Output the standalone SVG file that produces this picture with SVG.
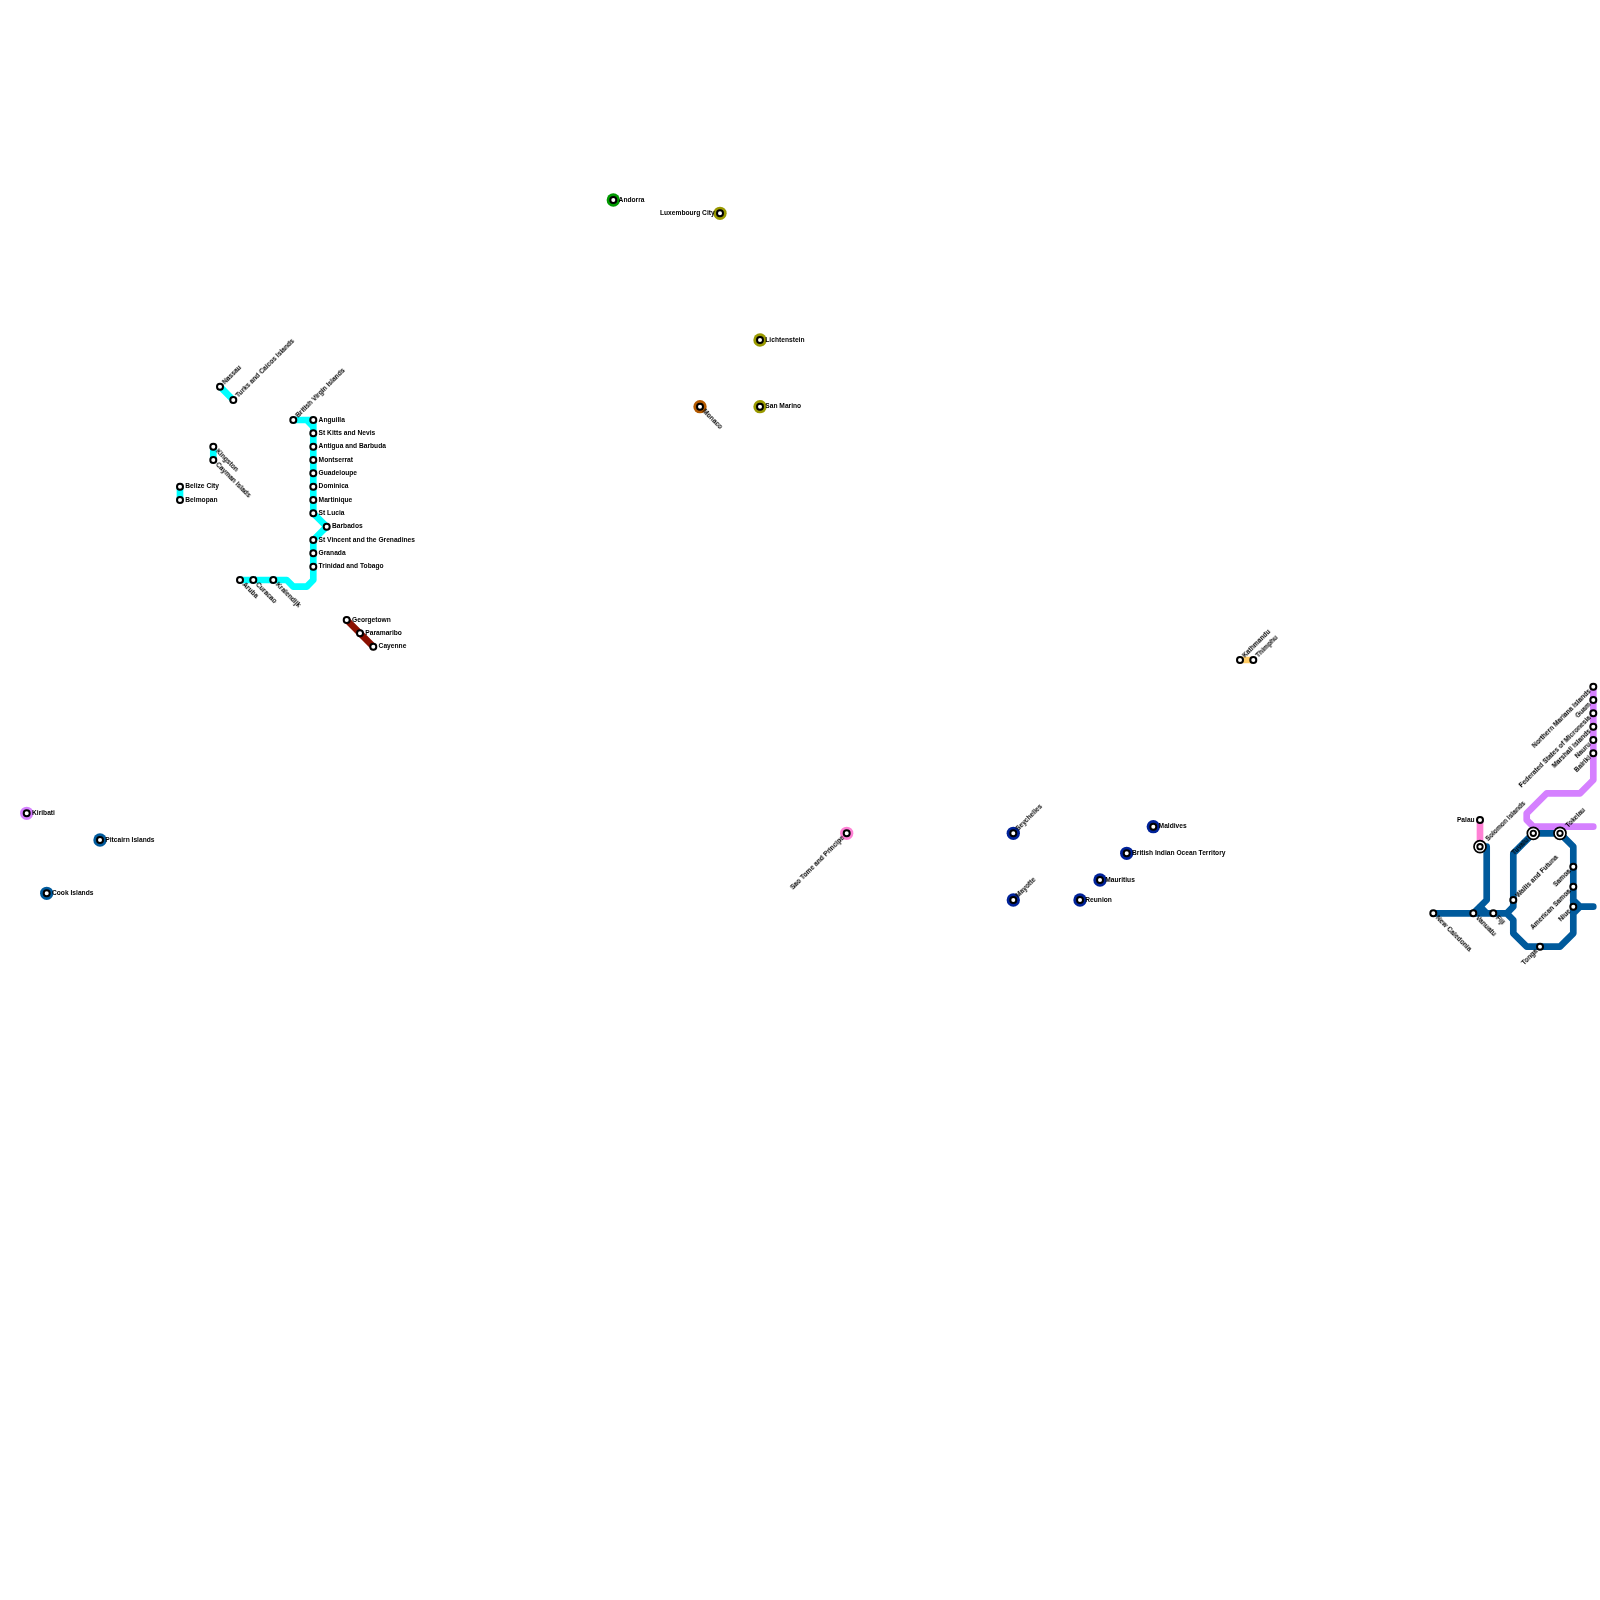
<svg xmlns="http://www.w3.org/2000/svg" width="1600" height="1600" viewBox="0 0 1600 1600">
<defs><filter id="soft" x="-10%" y="-30%" width="120%" height="160%"><feGaussianBlur stdDeviation="0.22"/></filter></defs>
<style>
text{font-family:"Liberation Sans",Arial,sans-serif;font-size:6.67px;font-weight:700;fill:#000;filter:url(#soft)}
.e{text-anchor:end}
.l{fill:none;stroke-width:6.67;stroke-linejoin:round;stroke-linecap:round}
.s{fill:#fff;stroke:#000;stroke-width:2}
.o{fill:#fff;stroke:#000;stroke-width:1.7}
.i{fill:#fff;stroke:#000;stroke-width:1.9}
.h{stroke:none}
</style>
<rect width="1600" height="1600" fill="#fff"/>
<g id="connectors">
<path class="l" stroke="#00ffff" d="M220 386.700L233.300 400M213.300 446.700V460M180 486.700V500M293.300 420H313.300V433.300M293.300 420H306.700L313.300 426.700V513.300L326.700 526.700L313.300 540V580L306.700 586.700H293.300L286.700 580H240"/>
<path class="l" stroke="#8b1000" d="M346.700 620L373.300 646.700"/>
<path class="l" stroke="#ffcc66" d="M1240 660H1253.300"/>
<path class="l" stroke="#ff80d5" d="M1480 820V846.700"/>
<path class="l" stroke="#d580ff" d="M1593.300 686.700V780L1580 793.300H1546.700L1526.700 813.300V820L1533.300 826.700H1593.300"/>
<path class="l" stroke="#005a9c" d="M1433.300 913.300H1506.700L1513.300 906.700V853.300L1533.300 833.300H1560L1573.300 846.700V933.300L1560 946.700H1526.700L1513.300 933.300V920L1506.700 913.300M1473.300 913.300L1486.700 900V846.700M1480 906.700L1486.700 913.300M1573.300 900L1580 906.700H1593.300M1573.300 913.300L1580 906.700"/>
</g>
<g id="n-kiribati"><circle class="h" cx="26.700" cy="813.300" r="6.670" fill="#d580ff"/><circle class="s" cx="26.700" cy="813.300" r="3"/><text x="32" y="815">Kiribati</text></g>
<g id="n-pitcairn"><circle class="h" cx="100" cy="840" r="6.670" fill="#005a9c"/><circle class="s" cx="100" cy="840" r="3"/><text x="105.300" y="841.700">Pitcairn Islands</text></g>
<g id="n-cook"><circle class="h" cx="46.700" cy="893.300" r="6.670" fill="#005a9c"/><circle class="s" cx="46.700" cy="893.300" r="3"/><text x="52" y="895">Cook Islands</text></g>
<g id="n-andorra"><circle class="h" cx="613.300" cy="200" r="6.670" fill="#009900"/><circle class="s" cx="613.300" cy="200" r="3"/><text x="618.600" y="201.700">Andorra</text></g>
<g id="n-luxembourg"><circle class="h" cx="720" cy="213.300" r="6.670" fill="#999900"/><circle class="s" cx="720" cy="213.300" r="3"/><text class="e" x="714.700" y="215">Luxembourg City</text></g>
<g id="n-lichtenstein"><circle class="h" cx="760" cy="340" r="6.670" fill="#999900"/><circle class="s" cx="760" cy="340" r="3"/><text x="765.300" y="341.700">Lichtenstein</text></g>
<g id="n-san-marino"><circle class="h" cx="760" cy="406.700" r="6.670" fill="#999900"/><circle class="s" cx="760" cy="406.700" r="3"/><text x="765.300" y="408.400">San Marino</text></g>
<g id="n-monaco"><circle class="h" cx="700" cy="406.700" r="6.670" fill="#b35900"/><circle class="s" cx="700" cy="406.700" r="3"/><text transform="translate(700 406.700) rotate(45)" x="5" y="2.300">Monaco</text></g>
<g id="n-sao-tome"><circle class="h" cx="846.700" cy="833.300" r="6.670" fill="#ff80d5"/><circle class="s" cx="846.700" cy="833.300" r="3"/><text class="e" transform="translate(846.700 833.300) rotate(-45)" x="-5" y="2.300">Sao Tome and Principe</text></g>
<g id="n-seychelles"><circle class="h" cx="1013.300" cy="833.300" r="6.670" fill="#002299"/><circle class="s" cx="1013.300" cy="833.300" r="3"/><text transform="translate(1013.300 833.300) rotate(-45)" x="5" y="2.300">Seychelles</text></g>
<g id="n-mayotte"><circle class="h" cx="1013.300" cy="900" r="6.670" fill="#002299"/><circle class="s" cx="1013.300" cy="900" r="3"/><text transform="translate(1013.300 900) rotate(-45)" x="5" y="2.300">Mayotte</text></g>
<g id="n-maldives"><circle class="h" cx="1153.300" cy="826.700" r="6.670" fill="#002299"/><circle class="s" cx="1153.300" cy="826.700" r="3"/><text x="1158.600" y="828.400">Maldives</text></g>
<g id="n-biot"><circle class="h" cx="1126.700" cy="853.300" r="6.670" fill="#002299"/><circle class="s" cx="1126.700" cy="853.300" r="3"/><text x="1132" y="855">British Indian Ocean Territory</text></g>
<g id="n-mauritius"><circle class="h" cx="1100" cy="880" r="6.670" fill="#002299"/><circle class="s" cx="1100" cy="880" r="3"/><text x="1105.300" y="881.700">Mauritius</text></g>
<g id="n-reunion"><circle class="h" cx="1080" cy="900" r="6.670" fill="#002299"/><circle class="s" cx="1080" cy="900" r="3"/><text x="1085.300" y="901.700">Reunion</text></g>
<g id="n-nassau"><circle class="s" cx="220" cy="386.700" r="3"/><text transform="translate(220 386.700) rotate(-45)" x="5" y="2.300">Nassau</text></g>
<g id="n-turks"><circle class="s" cx="233.300" cy="400" r="3"/><text transform="translate(233.300 400) rotate(-45)" x="5" y="2.300">Turks and Caicos Islands</text></g>
<g id="n-kingston"><circle class="s" cx="213.300" cy="446.700" r="3"/><text transform="translate(213.300 446.700) rotate(45)" x="5" y="2.300">Kingston</text></g>
<g id="n-cayman"><circle class="s" cx="213.300" cy="460" r="3"/><text transform="translate(213.300 460) rotate(45)" x="5" y="2.300">Cayman Islads</text></g>
<g id="n-belize"><circle class="s" cx="180" cy="486.700" r="3"/><text x="185.300" y="488.400">Belize City</text></g>
<g id="n-belmopan"><circle class="s" cx="180" cy="500" r="3"/><text x="185.300" y="501.700">Belmopan</text></g>
<g id="n-bvi"><circle class="s" cx="293.300" cy="420" r="3"/><text transform="translate(293.300 420) rotate(-45)" x="5" y="2.300">British Virgin Islands</text></g>
<g id="n-anguilla"><circle class="s" cx="313.300" cy="420" r="3"/><text x="318.600" y="421.700">Anguilla</text></g>
<g id="n-st-kitts"><circle class="s" cx="313.300" cy="433.300" r="3"/><text x="318.600" y="435">St Kitts and Nevis</text></g>
<g id="n-antigua"><circle class="s" cx="313.300" cy="446.700" r="3"/><text x="318.600" y="448.400">Antigua and Barbuda</text></g>
<g id="n-montserrat"><circle class="s" cx="313.300" cy="460" r="3"/><text x="318.600" y="461.700">Montserrat</text></g>
<g id="n-guadeloupe"><circle class="s" cx="313.300" cy="473.300" r="3"/><text x="318.600" y="475">Guadeloupe</text></g>
<g id="n-dominica"><circle class="s" cx="313.300" cy="486.700" r="3"/><text x="318.600" y="488.400">Dominica</text></g>
<g id="n-martinique"><circle class="s" cx="313.300" cy="500" r="3"/><text x="318.600" y="501.700">Martinique</text></g>
<g id="n-st-lucia"><circle class="s" cx="313.300" cy="513.300" r="3"/><text x="318.600" y="515">St Lucia</text></g>
<g id="n-barbados"><circle class="s" cx="326.700" cy="526.700" r="3"/><text x="332" y="528.400">Barbados</text></g>
<g id="n-st-vincent"><circle class="s" cx="313.300" cy="540" r="3"/><text x="318.600" y="541.700">St Vincent and the Grenadines</text></g>
<g id="n-granada"><circle class="s" cx="313.300" cy="553.300" r="3"/><text x="318.600" y="555">Granada</text></g>
<g id="n-trinidad"><circle class="s" cx="313.300" cy="566.700" r="3"/><text x="318.600" y="568.400">Trinidad and Tobago</text></g>
<g id="n-aruba"><circle class="s" cx="240" cy="580" r="3"/><text transform="translate(240 580) rotate(45)" x="5" y="2.300">Aruba</text></g>
<g id="n-curacao"><circle class="s" cx="253.300" cy="580" r="3"/><text transform="translate(253.300 580) rotate(45)" x="5" y="2.300">Curacao</text></g>
<g id="n-kralendijk"><circle class="s" cx="273.300" cy="580" r="3"/><text transform="translate(273.300 580) rotate(45)" x="5" y="2.300">Kralendijk</text></g>
<g id="n-georgetown"><circle class="s" cx="346.700" cy="620" r="3"/><text x="352" y="621.700">Georgetown</text></g>
<g id="n-paramaribo"><circle class="s" cx="360" cy="633.300" r="3"/><text x="365.300" y="635">Paramaribo</text></g>
<g id="n-cayenne"><circle class="s" cx="373.300" cy="646.700" r="3"/><text x="378.600" y="648.400">Cayenne</text></g>
<g id="n-kathmandu"><circle class="s" cx="1240" cy="660" r="3"/><text transform="translate(1240 660) rotate(-45)" x="5" y="2.300">Kathmandu</text></g>
<g id="n-thimphu"><circle class="s" cx="1253.300" cy="660" r="3"/><text transform="translate(1253.300 660) rotate(-45)" x="5" y="2.300">Thimphu</text></g>
<g id="n-northern-mariana"><circle class="s" cx="1593.300" cy="686.700" r="3"/><text class="e" transform="translate(1593.300 686.700) rotate(-45)" x="-5" y="2.300">Northern Mariana Islands</text></g>
<g id="n-guam"><circle class="s" cx="1593.300" cy="700" r="3"/><text class="e" transform="translate(1593.300 700) rotate(-45)" x="-5" y="2.300">Guam</text></g>
<g id="n-micronesia"><circle class="s" cx="1593.300" cy="713.300" r="3"/><text class="e" transform="translate(1593.300 713.300) rotate(-45)" x="-5" y="2.300">Federated States of Micronesia</text></g>
<g id="n-marshall"><circle class="s" cx="1593.300" cy="726.700" r="3"/><text class="e" transform="translate(1593.300 726.700) rotate(-45)" x="-5" y="2.300">Marshall Islands</text></g>
<g id="n-nauru"><circle class="s" cx="1593.300" cy="740" r="3"/><text class="e" transform="translate(1593.300 740) rotate(-45)" x="-5" y="2.300">Nauru</text></g>
<g id="n-bairiki"><circle class="s" cx="1593.300" cy="753.300" r="3"/><text class="e" transform="translate(1593.300 753.300) rotate(-45)" x="-5" y="2.300">Bairiki</text></g>
<g id="n-palau"><circle class="s" cx="1480" cy="820" r="3"/><text class="e" x="1474.700" y="821.700">Palau</text></g>
<g id="n-solomon"><circle class="o" cx="1480" cy="846.700" r="6"/><circle class="i" cx="1480" cy="846.700" r="2.700"/><text transform="translate(1480 846.700) rotate(-45)" x="9.500" y="2.300">Solomon Islands</text></g>
<g id="n-tuvalu"><circle class="o" cx="1533.300" cy="833.300" r="6"/><circle class="i" cx="1533.300" cy="833.300" r="2.700"/><text class="e" transform="translate(1533.300 833.300) rotate(-45)" x="-8" y="2.300">Tuvalu</text></g>
<g id="n-tokelau"><circle class="o" cx="1560" cy="833.300" r="6"/><circle class="i" cx="1560" cy="833.300" r="2.700"/><text transform="translate(1560 833.300) rotate(-45)" x="9.500" y="2.300">Tokelau</text></g>
<g id="n-samoa"><circle class="s" cx="1573.300" cy="866.700" r="3"/><text class="e" transform="translate(1573.300 866.700) rotate(-45)" x="-5" y="2.300">Samoa</text></g>
<g id="n-american-samoa"><circle class="s" cx="1573.300" cy="886.700" r="3"/><text class="e" transform="translate(1573.300 886.700) rotate(-45)" x="-5" y="2.300">American Samoa</text></g>
<g id="n-niue"><circle class="s" cx="1573.300" cy="906.700" r="3"/><text class="e" transform="translate(1573.300 906.700) rotate(-45)" x="-5" y="2.300">Niue</text></g>
<g id="n-wallis"><circle class="s" cx="1513.300" cy="900" r="3"/><text transform="translate(1513.300 900) rotate(-45)" x="5" y="2.300">Wallis and Futuna</text></g>
<g id="n-fiji"><circle class="s" cx="1493.300" cy="913.300" r="3"/><text transform="translate(1493.300 913.300) rotate(45)" x="5" y="2.300">Fiji</text></g>
<g id="n-vanuatu"><circle class="s" cx="1473.300" cy="913.300" r="3"/><text transform="translate(1473.300 913.300) rotate(45)" x="5" y="2.300">Vanuatu</text></g>
<g id="n-new-caledonia"><circle class="s" cx="1433.300" cy="913.300" r="3"/><text transform="translate(1433.300 913.300) rotate(45)" x="5" y="2.300">New Caledonia</text></g>
<g id="n-tonga"><circle class="s" cx="1540" cy="946.700" r="3"/><text class="e" transform="translate(1540 946.700) rotate(-45)" x="-5" y="2.300">Tonga</text></g>
</svg>
